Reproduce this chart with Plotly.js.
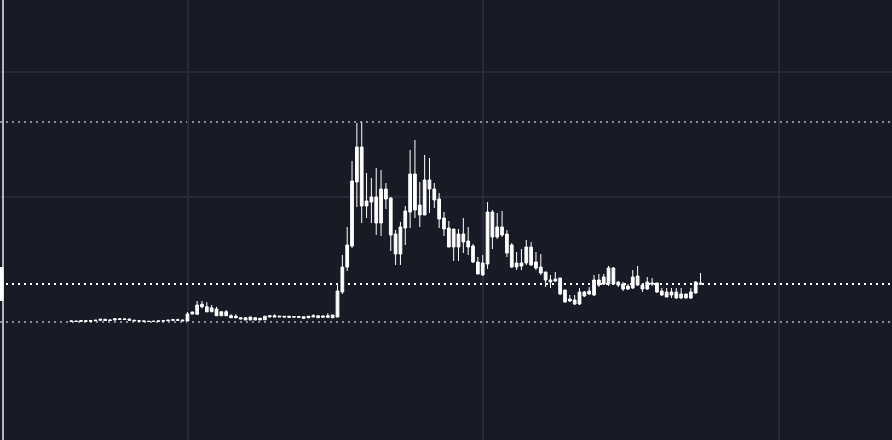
<!DOCTYPE html>
<html>
<head>
<meta charset="utf-8">
<script src="https://cdn.plot.ly/plotly-3.0.1.min.js"></script>
<style>
html,body{margin:0;padding:0;background:#181a26;}
#chart{width:892px;height:440px;}
</style>
</head>
<body>
<div id="chart"></div>
<script>
const opens = [
100.4,100.8,100.4,101,100.6,101,101.4,102.2,101.2,101.6,102.6,102,102.4,101.4,101,100.8,100.6,100.4,100.6,100.8,101,101.4,101.8,101.4,
100.8,106.4,106.2,114.2,112.2,108.2,110.4,105,108.2,105,103.4,103.4,103.4,101.6,103.4,101.6,101.8,104,105,104,104.6,104.6,103.8,104.4,104.2,103.4,104,105,103.8,105,103.4,
104,124,144,160.8,212,240,192.8,196,200,179.2,206.4,199.2,170.4,154.4,175.2,188,218.4,193.6,185.6,213.6,206.4,198.4,183.2,175.2,160,170.4,164,164.8,160.8,148,137.6,146.4,188,168,176,170.4,161.6,144,147.2,147.2,160,148,144,140,133.6,132.8,135.2,125.6,118.4,117.6,114.4,124,122.4,121.6,133.6,130.4,130.4,143.2,132,130.4,126.4,127.2,136.8,129.6,126.4,131.2,131.2,124.8,124,121.6,124,119.2,122.4,119.2,123.2,131.2
];
const highs = [
101.2,101.2,101.2,101.6,101.2,101.6,102.4,102.4,101.8,102.8,103,102.8,102.6,101.8,101.6,101.2,101,100.8,101.2,101.2,101.8,102.2,102.6,102.4,
108,108.2,116.8,116.8,115.8,113.6,112.2,108.2,109.6,106.2,106.2,103.4,103.4,104,103.4,103,104.6,105,106.2,104.6,104.6,104.6,104.4,104.4,104.2,104.6,106.2,105,104.8,107,105.6,
130.4,153.6,176,228.8,259.2,260,219.2,215.2,223.2,221.6,211.2,200,173.6,180,192.8,237.6,245.6,212,233.6,231.2,211.2,203.2,188,180.8,174.4,174.4,183.2,176,162.4,152,153.6,196,189.6,187.2,188.8,173.6,163.2,156,158.4,165.6,164,156,154.4,140,137.6,140,135.2,125.6,121.6,121.6,127.2,124.8,128,137.6,138.4,138.4,144.8,144,132.8,132,130.4,141.6,144.8,131.2,136,135.2,131.2,127.2,127.2,127.2,127.2,127.2,122.4,127.2,132.8,139.2
];
const lows = [
100,100.4,100,100.4,100.2,100.6,101,101,100.8,101.2,101.8,101.6,101,100.6,100.4,100.2,100,100,100.2,100.4,100.6,101,101.2,101,
100.8,106.2,106.2,111,107.8,108.2,105,105,105,103.4,103,102.4,101.6,101.6,101.6,101.6,101.8,104,104,104,104,103.8,103.8,103.8,103,103.4,104,103.4,103.8,103.8,103.2,
104,122.4,140.8,159.2,192,179.2,183.2,179.2,169.6,168.8,190.4,156.8,145.6,145.6,161.6,175.2,183.2,176,185.6,187.2,191.2,175.2,168.8,160,148.8,148.8,155.2,153.6,147.2,138.4,136.8,142.4,158.4,166.4,168,152,143.2,141.6,141.6,145.6,144.8,141.6,137.6,128,127.2,132,121.6,115.2,116,113.6,113.6,120,121.6,120.8,128,129.6,128.8,129.6,128,124.8,125.6,126.4,128.8,124,125.6,128.8,123.2,120.8,120,119.2,118.4,118.4,118.8,118.4,122.4,129.6
];
const closes = [
100.8,100.4,101,100.6,101,101.4,102.2,101.2,101.6,102.6,102,102.4,101.4,101,100.8,100.6,100.4,100.6,100.8,101,101.4,101.8,101.4,101,
106.4,108,113.6,112.2,108.2,111.4,105,108.2,105,103.4,104.6,102.4,101.6,104,101.6,103,104.6,105,104,104.6,104,103.8,104.4,103.8,103,104.6,105,103.4,104.8,103.8,105.6,
124.8,144,161.6,212.8,240,192.8,196.8,200,179.2,206.4,198.4,169.6,154.4,176,188.8,218.4,189.6,185.6,213.6,206.4,197.6,182.4,174.4,160,174.4,160,170.4,160,148,138.4,147.2,188,168,176,169.6,155.2,144,147.2,144.8,160,145.6,143.2,139.2,133.6,132,134.4,122.4,116,116.8,114.4,124,120.8,124.8,133.6,129.6,136,143.2,130.4,129.6,126.4,128.8,136,129.6,126.4,132,130.4,124,121.6,120,124,119.2,122.4,119.2,124,132,130.4
];
const xs = opens.map((_, i) => i);

const maxHigh = Math.max(...highs);
const minLow = Math.min(...lows);
const lastClose = closes[closes.length - 1];

const bg = '#181a26';
const grid = '#282b37';
const white = '#ffffff';
const gray = '#8a8d97';

const trace = {
  type: 'candlestick',
  x: xs, open: opens, high: highs, low: lows, close: closes,
  increasing: {line: {color: white, width: 1}, fillcolor: white},
  decreasing: {line: {color: white, width: 1}, fillcolor: white},
  whiskerwidth: 0,
  hoverinfo: 'skip',
  showlegend: false
};

const layout = {
  width: 892, height: 440,
  margin: {l: 0, r: 0, t: 0, b: 0, pad: 0},
  paper_bgcolor: bg, plot_bgcolor: bg,
  showlegend: false,
  hovermode: false,
  boxgap: 0.25,
  boxgroupgap: 0.25,
  xaxis: {
    range: [-14.73, 169.56],
    tickmode: 'linear', tick0: 24.11, dtick: 61.05,
    showticklabels: false, ticks: '',
    showgrid: true, gridcolor: grid, gridwidth: 2,
    zeroline: false, showline: false,
    rangeslider: {visible: false},
    fixedrange: true
  },
  yaxis: {
    range: [5.6, 357.6],
    tickmode: 'array', tickvals: [200, 300],
    showticklabels: false, ticks: '',
    showgrid: true, gridcolor: grid, gridwidth: 2,
    zeroline: false, showline: false,
    fixedrange: true
  },
  shapes: [
    {type: 'line', xref: 'paper', yref: 'y', x0: 0, x1: 1, y0: maxHigh, y1: maxHigh,
     line: {color: gray, width: 2, dash: '2px,4px'}, layer: 'below'},
    {type: 'line', xref: 'paper', yref: 'y', x0: 0, x1: 1, y0: minLow, y1: minLow,
     line: {color: gray, width: 2, dash: '2px,4px'}, layer: 'below'},
    {type: 'line', xref: 'paper', yref: 'y', x0: 0, x1: 1, y0: lastClose, y1: lastClose,
     line: {color: white, width: 2, dash: '2px,4px'}, layer: 'above'},
    {type: 'line', xref: 'paper', yref: 'paper', x0: 3 / 892, x1: 3 / 892, y0: 0, y1: 1,
     line: {color: '#b4b6bf', width: 2}, layer: 'above'},
    {type: 'rect', xref: 'paper', yref: 'y', x0: 0, x1: 3.6 / 892,
     y0: lastClose - 13.6, y1: lastClose + 13.6,
     line: {width: 0}, fillcolor: white, layer: 'above'}
  ]
};

Plotly.newPlot('chart', [trace], layout, {displayModeBar: false, staticPlot: true});
</script>
</body>
</html>
